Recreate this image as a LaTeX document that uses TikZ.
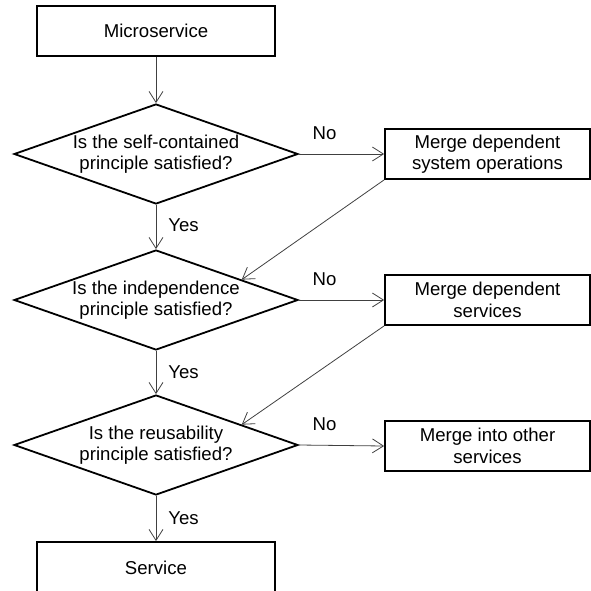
\documentclass[tikz,border=0pt]{standalone}
\usepackage{fontspec}
\setmainfont{Liberation Sans}
\usetikzlibrary{shapes.geometric,arrows.meta,calc}
\begin{document}
\begin{tikzpicture}[x=1pt,y=-1pt,
  font=\fontsize{18.6}{21.5}\selectfont,
  procbox/.style={draw=black,line width=1.8pt,rectangle,inner sep=0pt,align=center},
  mainbox/.style={procbox,minimum width=238pt,minimum height=50pt},
  sidebox/.style={procbox,minimum width=205pt,minimum height=50pt},
  decision/.style={draw=black,line width=1.8pt,diamond,aspect=2.84,inner sep=0pt,
    minimum width=284pt,minimum height=100pt,align=center},
  flow/.style={draw=black!75,line width=0.8pt,-{Straight Barb[length=11pt,width=14pt,line width=0.8pt]}},
  tag/.style={inner sep=0pt}
]
\useasboundingbox (0,0) rectangle (591,591);
\clip (0,0) rectangle (591,591);

% main column
\node[mainbox] (micro) at (156,31) {Microservice};
\node[decision] (d1) at (156,154) {Is the self-contained\\principle satisfied?};
\node[decision] (d2) at (156,300) {Is the independence\\principle satisfied?};
\node[decision] (d3) at (156,445) {Is the reusability\\principle satisfied?};
\node[procbox,minimum width=238pt,minimum height=52pt] (service) at (156,568) {Service};

% merge actions
\node[sidebox] (m1) at (487.5,154) {Merge dependent\\system operations};
\node[sidebox] (m2) at (487.5,300) {Merge dependent\\services};
\node[sidebox] (m3) at (487.5,446) {Merge into other\\services};

% return points on the upper right edges of the decisions
\coordinate (r2) at ($(d2.north)!0.6!(d2.east)$);
\coordinate (r3) at ($(d3.north)!0.6!(d3.east)$);

% connectors
\draw[flow] (micro.south) -- (d1.north);
\draw[flow] (d1.south) -- node[tag,right=12pt,pos=0.45] {Yes} (d2.north);
\draw[flow] (d2.south) -- node[tag,right=12pt,pos=0.5] {Yes} (d3.north);
\draw[flow] (d3.south) -- node[tag,right=12pt,pos=0.5] {Yes} (service.north);

\draw[flow] (d1.east) -- node[tag,above=14pt,pos=0.3] {No} (m1.west);
\draw[flow] (d2.east) -- node[tag,above=14pt,pos=0.3] {No} (m2.west);
\draw[flow] (d3.east) -- node[tag,above=14pt,pos=0.3] {No} (m3.west);

\draw[flow] (m1.south west) -- (r2);
\draw[flow] (m2.south west) -- (r3);
\end{tikzpicture}
\end{document}
